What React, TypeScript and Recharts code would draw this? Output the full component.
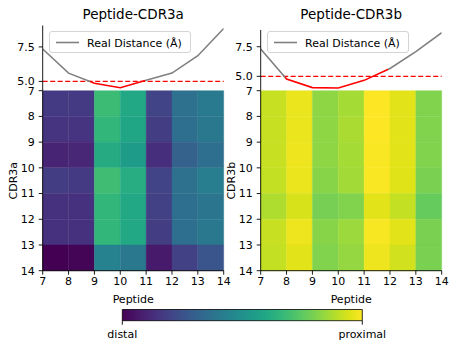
import React from 'react';
import { ComposedChart, Line, XAxis, YAxis, ReferenceLine, ReferenceArea } from 'recharts';

// ---------- data ----------
const peptides = [7, 8, 9, 10, 11, 12, 13, 14];
const heatTicks = [7, 8, 9, 10, 11, 12, 13, 14];
const distTicks = [5, 7.5];
const threshold = 5;

const titleA = 'Peptide-CDR3a';
const titleB = 'Peptide-CDR3b';
const yLabelA = 'CDR3a';
const yLabelB = 'CDR3b';
const xLabel = 'Peptide';
const legendLabel = 'Real Distance (Å)';
const colorbarLabels = ['distal', 'proximal'];

const distA = [7.35, 5.6, 4.86, 4.54, 5.08, 5.6, 6.86, 8.84];
const distB = [7.3, 4.78, 4.05, 4.02, 4.66, 5.66, 7.09, 8.68];

// x-range where the distance curve is highlighted in red
const redRangeA = [8.83, 10.96];
const redRangeB = [7.94, 11.93];

// normalized proximity (0 = distal, 1 = proximal); rows CDR3 7..13, cols peptide 7..13
const heatA = [
  [0.17, 0.17, 0.68, 0.6, 0.2, 0.37, 0.41],
  [0.15, 0.15, 0.66, 0.59, 0.18, 0.36, 0.4],
  [0.1, 0.11, 0.61, 0.55, 0.13, 0.31, 0.36],
  [0.18, 0.17, 0.69, 0.62, 0.2, 0.37, 0.42],
  [0.14, 0.14, 0.66, 0.6, 0.19, 0.36, 0.39],
  [0.14, 0.14, 0.66, 0.6, 0.18, 0.36, 0.4],
  [0.0, 0.01, 0.44, 0.4, 0.07, 0.19, 0.26],
];
const heatB = [
  [0.915, 0.97, 0.83, 0.865, 1.0, 0.955, 0.81],
  [0.915, 0.97, 0.83, 0.87, 1.0, 0.955, 0.81],
  [0.915, 0.975, 0.83, 0.865, 0.995, 0.955, 0.81],
  [0.91, 0.97, 0.82, 0.86, 0.995, 0.95, 0.8],
  [0.88, 0.94, 0.795, 0.81, 0.955, 0.91, 0.765],
  [0.915, 0.975, 0.82, 0.85, 0.99, 0.955, 0.8],
  [0.91, 0.955, 0.81, 0.84, 0.975, 0.93, 0.8],
];

// viridis colormap anchors (every 0.05)
const VIRIDIS = [
  '#440154', '#471365', '#482475', '#463480', '#414487', '#3b528b', '#355f8d',
  '#2f6c8e', '#2a788e', '#25848e', '#21918c', '#1e9c89', '#22a884', '#2fb47c',
  '#44bf70', '#5ec962', '#7ad151', '#9bd93c', '#bddf26', '#dfe318', '#fde725',
];

// ---------- helpers ----------
const FONT = "'DejaVu Sans', sans-serif";
const hex = (h: string) => [1, 3, 5].map((i) => parseInt(h.slice(i, i + 2), 16));
function viridis(t: number) {
  const v = Math.max(0, Math.min(1, t)) * (VIRIDIS.length - 1);
  const i = Math.min(VIRIDIS.length - 2, Math.floor(v));
  const f = v - i;
  const a = hex(VIRIDIS[i]);
  const b = hex(VIRIDIS[i + 1]);
  const c = a.map((x, k) => Math.round(x + (b[k] - x) * f));
  return `rgb(${c[0]},${c[1]},${c[2]})`;
}
function autoDomain(vals: number[]) {
  const mn = Math.min(...vals);
  const mx = Math.max(...vals);
  const m = (mx - mn) * 0.05;
  return [mn - m, mx + m];
}

const tickStyle = { fill: '#000', fontSize: 11, fontFamily: FONT };
const lineStyle = { stroke: '#000', strokeWidth: 0.9 };

const PLOT_LEFT = 42.7;
const PLOT_W = 181;
const CW = 236;
const HEAT_TOP = 78; // container top of heatmap chart
const HEAT_MT = 12.7; // so the plot starts at y = 90.7

function Panel({ left, title, yLabel, dist, redRange, heat, topY, gid }: any) {
  const lineData = peptides.map((p, i) => ({ p, d: dist[i] }));
  const dom = autoDomain(dist);
  const span = peptides[peptides.length - 1] - peptides[0];
  const a = (redRange[0] - peptides[0]) / span;
  const b = (redRange[1] - peptides[0]) / span;
  const cells: any[] = [];
  heat.forEach((row: number[], r: number) =>
    row.forEach((v: number, c: number) =>
      cells.push({ x1: heatTicks[c], x2: heatTicks[c + 1], y1: heatTicks[r], y2: heatTicks[r + 1], v })
    )
  );
  const rightM = CW - PLOT_LEFT - PLOT_W;
  const midY = HEAT_MT + 90;
  return (
    <div style={{ position: 'absolute', left, top: 0, width: CW, height: 310 }}>
      <svg width={CW} height={25} style={{ position: 'absolute', left: 0, top: 0 }}>
        <text x={PLOT_LEFT + PLOT_W / 2} y={19} textAnchor="middle" fontSize={13.5} fontFamily={FONT} fill="#000">
          {title}
        </text>
      </svg>
      <div style={{ position: 'absolute', left: 0, top: 0 }}>
        <ComposedChart width={CW} height={91} data={lineData} margin={{ top: topY, right: rightM, bottom: 0.3, left: 0 }}>
          <defs>
            <linearGradient id={gid} x1="0" y1="0" x2="1" y2="0">
              <stop offset={0} stopColor="#808080" />
              <stop offset={a} stopColor="#808080" />
              <stop offset={a} stopColor="#ff0000" />
              <stop offset={b} stopColor="#ff0000" />
              <stop offset={b} stopColor="#808080" />
              <stop offset={1} stopColor="#808080" />
            </linearGradient>
          </defs>
          <ReferenceLine y={threshold} stroke="#ff0000" strokeDasharray="5 2.5" strokeWidth={1.3} />
          <Line dataKey="d" stroke={`url(#${gid})`} strokeWidth={1.6} dot={false} activeDot={false} isAnimationActive={false} />
          <XAxis dataKey="p" type="number" domain={[peptides[0], peptides[peptides.length - 1]]} allowDataOverflow hide />
          <XAxis xAxisId="top" orientation="top" type="number" domain={[7, 14]} height={0} tick={false} tickLine={false} axisLine={lineStyle} />
          <YAxis
            type="number"
            domain={dom}
            allowDataOverflow
            ticks={distTicks}
            tickFormatter={(v: number) => v.toFixed(1)}
            width={PLOT_LEFT}
            tickSize={4}
            tickMargin={4}
            tick={tickStyle}
            tickLine={lineStyle}
            axisLine={lineStyle}
          />
          <YAxis yAxisId="right" orientation="right" type="number" domain={dom} width={0} tick={false} tickLine={false} axisLine={lineStyle} />
        </ComposedChart>
      </div>
      <div
        style={{
          position: 'absolute',
          left: 48.5,
          top: 31,
          width: 140,
          height: 20,
          border: '1px solid #d4d4d4',
          borderRadius: 3,
          background: 'rgba(255,255,255,0.8)',
        }}
      >
        <svg width={140} height={20} style={{ position: 'absolute', left: 0, top: 0 }}>
          <line x1={6} x2={29} y1={10.5} y2={10.5} stroke="#808080" strokeWidth={1.6} />
          <text x={37} y={14.5} fontSize={11} fontFamily={FONT} fill="#000">
            {legendLabel}
          </text>
        </svg>
      </div>
      <div style={{ position: 'absolute', left: 0, top: HEAT_TOP }}>
        <ComposedChart width={CW} height={232} data={cells} margin={{ top: HEAT_MT, right: rightM, bottom: 0, left: 0 }}>
          {cells.map((c, i) => (
            <ReferenceArea
              key={i}
              x1={c.x1}
              x2={c.x2}
              y1={c.y1}
              y2={c.y2}
              fill={viridis(c.v)}
              fillOpacity={1}
              stroke={viridis(c.v)}
              strokeWidth={0.4}
              ifOverflow="visible"
            />
          ))}
          <XAxis
            dataKey="x1"
            type="number"
            domain={[7, 14]}
            allowDataOverflow
            ticks={heatTicks}
            interval={0}
            height={39.3}
            tickSize={4}
            tickMargin={2.5}
            tick={tickStyle}
            tickLine={lineStyle}
            axisLine={lineStyle}
            label={{
              content: () => (
                <text x={PLOT_LEFT + PLOT_W / 2} y={302.5 - HEAT_TOP} textAnchor="middle" fontSize={11} fontFamily={FONT} fill="#000">
                  {xLabel}
                </text>
              ),
            }}
          />
          <XAxis xAxisId="top" orientation="top" type="number" domain={[7, 14]} height={0} tick={false} tickLine={false} axisLine={lineStyle} />
          <YAxis
            dataKey="y1"
            type="number"
            domain={[7, 14]}
            allowDataOverflow
            reversed
            ticks={heatTicks}
            interval={0}
            width={PLOT_LEFT}
            tickSize={4}
            tickMargin={4}
            tick={tickStyle}
            tickLine={lineStyle}
            axisLine={lineStyle}
            label={{
              content: () => (
                <text
                  x={13.3}
                  y={midY}
                  transform={`rotate(-90 13.3 ${midY})`}
                  textAnchor="middle"
                  dominantBaseline="central"
                  fontSize={11}
                  fontFamily={FONT}
                  fill="#000"
                >
                  {yLabel}
                </text>
              ),
            }}
          />
          <YAxis yAxisId="right" orientation="right" type="number" domain={[7, 14]} width={0} tick={false} tickLine={false} axisLine={lineStyle} />
        </ComposedChart>
      </div>
    </div>
  );
}

function Colorbar() {
  const data = [
    { v: 0, w: 0 },
    { v: 1, w: 1 },
  ];
  return (
    <div style={{ position: 'absolute', left: 100, top: 300 }}>
      <ComposedChart width={290} height={45} data={data} margin={{ top: 9.5, right: 27.7, bottom: 0, left: 22.3 }}>
        <defs>
          <linearGradient id="cbarGrad" x1="0" y1="0" x2="1" y2="0">
            {VIRIDIS.map((c, i) => (
              <stop key={i} offset={i / (VIRIDIS.length - 1)} stopColor={c} />
            ))}
          </linearGradient>
        </defs>
        <ReferenceArea x1={0} x2={1} y1={0} y2={1} fill="url(#cbarGrad)" fillOpacity={1} stroke="#000" strokeWidth={0.8} ifOverflow="visible" />
        <XAxis
          dataKey="v"
          type="number"
          domain={[0, 1]}
          allowDataOverflow
          ticks={[0, 1]}
          interval={0}
          tickFormatter={(v: number) => (v === 0 ? colorbarLabels[0] : colorbarLabels[1])}
          height={24.3}
          axisLine={false}
          tickSize={4}
          tickMargin={5}
          tick={tickStyle}
          tickLine={lineStyle}
        />
        <YAxis dataKey="w" type="number" domain={[0, 1]} allowDataOverflow width={0} tick={false} tickLine={false} axisLine={false} />
      </ComposedChart>
    </div>
  );
}

export default function App() {
  return (
    <div style={{ position: 'absolute', left: 0, top: 0, width: 457, height: 349, background: '#fff', fontFamily: FONT }}>
      <Panel left={0} title={titleA} yLabel={yLabelA} dist={distA} redRange={redRangeA} heat={heatA} topY={25.5} gid="gradA" />
      <Panel left={218} title={titleB} yLabel={yLabelB} dist={distB} redRange={redRangeB} heat={heatB} topY={30} gid="gradB" />
      <Colorbar />
    </div>
  );
}
